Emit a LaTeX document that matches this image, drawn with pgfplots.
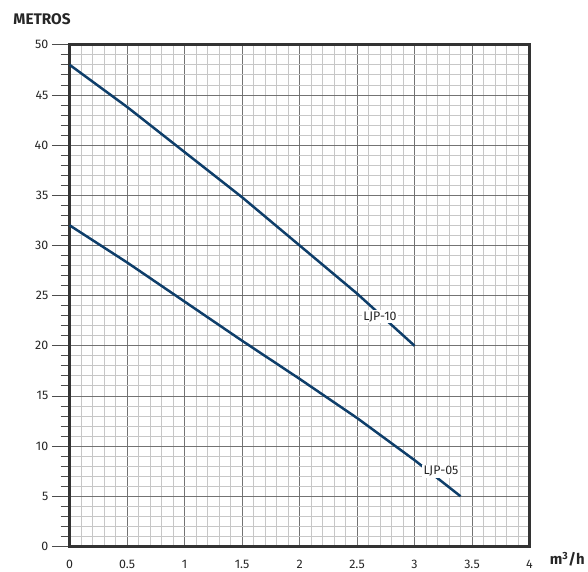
\documentclass[border=0pt]{standalone}
\usepackage{fontspec}
\setmainfont{Fira Sans}
\usepackage{pgfplots}
\pgfplotsset{compat=1.18}
\definecolor{curve}{HTML}{0E3E6A}
\begin{document}
\begin{tikzpicture}
\begin{axis}[
 scale only axis, width=462bp, height=504bp,
 xmin=0,xmax=4,ymin=0,ymax=50,
 xtick={0,0.5,1,1.5,2,2.5,3,3.5,4}, ytick={0,5,...,50},
 xticklabels={0,0.5,1,1.5,2,2.5,3,3.5,4},
 minor x tick num=4, minor y tick num=4,
 grid=both,
 major grid style={draw=black!55, line width=0.8bp},
 minor grid style={draw=black!22, line width=0.8bp},
 axis line style={draw=black!80, line width=3bp},
 tick align=outside,
 ytick pos=left, xtick pos=bottom,
 major tick length=18bp, minor tick length=9bp,
 xtick style={draw=none},
 ytick style={draw=black!70, line width=0.8bp},
 tick label style={font=\fontsize{12.5}{14}\selectfont, text=black!85},
 xticklabel style={yshift=8bp},
 /pgf/number format/assume math mode=true,
 clip=false,
]
\addplot[curve, line width=2.5bp, line join=round] coordinates {(0,48) (0.5,43.8) (1,39.3) (1.5,34.8) (2,30) (2.5,25.2) (3,20)};
\addplot[curve, line width=2.5bp, line join=round] coordinates {(0,32) (0.5,28.3) (1,24.4) (1.5,20.5) (2,16.7) (2.5,12.8) (3,8.6) (3.4,5)};
\node[fill=white, inner sep=1.5bp, font=\fontsize{12.5}{14}\selectfont, text=black!85] at (axis cs:2.70,22.9) {LJP-10};
\node[fill=white, inner sep=1.5bp, font=\fontsize{12.5}{14}\selectfont, text=black!85] at (axis cs:3.23,7.5) {LJP-05};
\end{axis}
\node[anchor=west, font=\bfseries\fontsize{15.5}{17}\selectfont, text=black!85] at ([xshift=-60bp,yshift=26bp]current axis.north west) {METROS};
\node[anchor=west, font=\bfseries\fontsize{15}{17}\selectfont, text=black!85] at ([xshift=17bp,yshift=-13bp]current axis.south east) {m\textsuperscript{3}/h};
\path ([xshift=-70bp,yshift=-23bp]current axis.south west) rectangle ++(588bp,572bp);
\end{tikzpicture}
\end{document}
